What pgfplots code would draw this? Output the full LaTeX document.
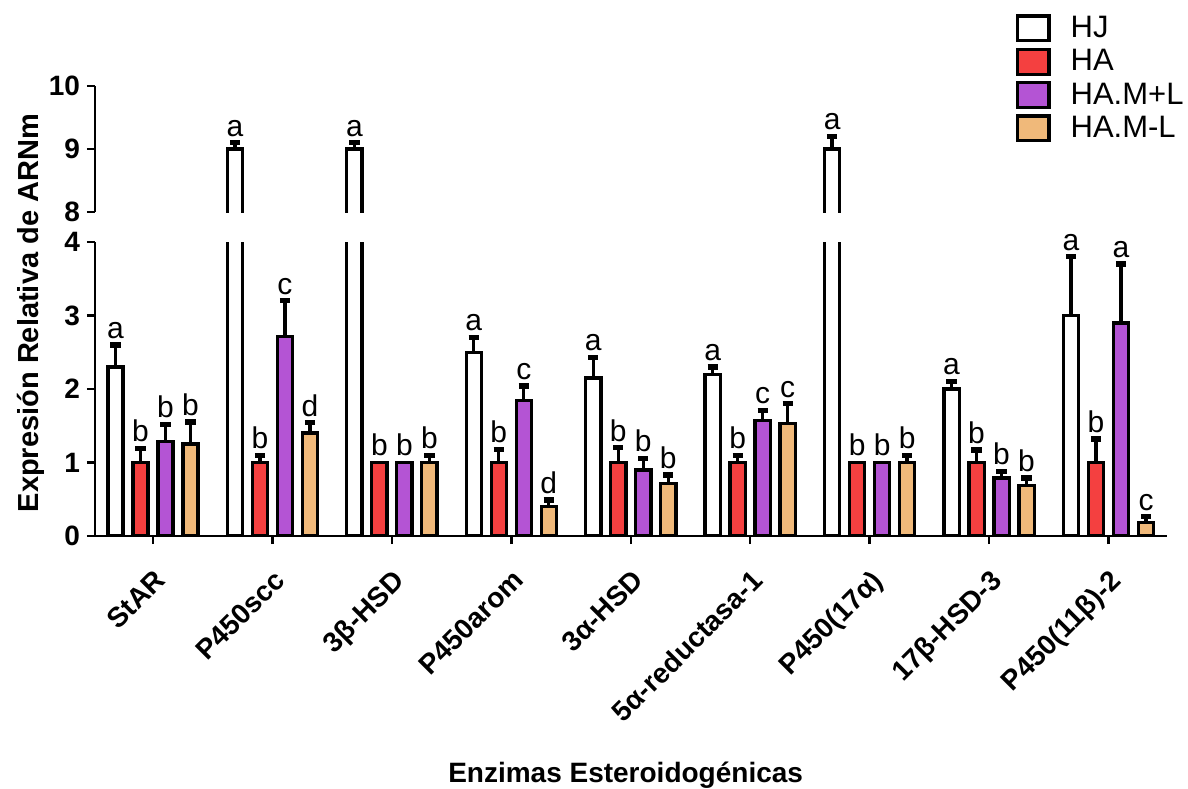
\documentclass[border=0pt]{standalone}
\usepackage{fontspec}
\setmainfont{Liberation Sans}
\usepackage{pgfplots}
\usepackage{pgfplotstable}
\pgfplotsset{compat=1.18}
\definecolor{cHA}{RGB}{244,64,64}
\definecolor{cML}{RGB}{180,84,212}
\definecolor{cMm}{RGB}{240,185,122}

\pgfplotstableread{
x y e l
0 2.3 0.3 a
1 9.0 0.1 a
2 9.0 0.1 a
3 2.5 0.2 a
4 2.15 0.28 a
5 2.2 0.1 a
6 9.0 0.2 a
7 2.0 0.1 a
8 3.0 0.8 a
}\tHJ
\pgfplotstableread{
x y e l
0 1.0 0.19 b
1 1.0 0.1 b
2 1.0 0.0 b
3 1.0 0.18 b
4 1.0 0.2 b
5 1.0 0.1 b
6 1.0 0.0 b
7 1.0 0.17 b
8 1.0 0.32 b
}\tHA
\pgfplotstableread{
x y e l
0 1.29 0.23 b
1 2.71 0.49 c
2 1.0 0.0 b
3 1.84 0.2 c
4 0.9 0.16 b
5 1.57 0.14 c
6 1.0 0.0 b
7 0.79 0.09 b
8 2.9 0.8 a
}\tML
\pgfplotstableread{
x y e l
0 1.25 0.3 b
1 1.4 0.14 d
2 1.0 0.1 b
3 0.4 0.09 d
4 0.71 0.12 b
5 1.53 0.27 c
6 1.0 0.1 b
7 0.69 0.1 b
8 0.18 0.08 c
}\tMm

\newcommand{\fs}{\fontsize{14}{16}\selectfont}
\pgfplotsset{
  common/.style={
    scale only axis, width=536pt,
    xmin=-0.486, xmax=8.49,
    axis line style={line width=1.2pt},
    tick style={line width=1.2pt, black},
    major tick length=4pt,
    tick align=outside,
    yticklabel style={font=\fs\bfseries},
    /pgf/number format/assume math mode=true,
    clip=true,
  },
  barstyle/.style={ybar, bar width=7.6pt, line width=1.65pt, draw=black},
  errstyle/.style={draw=none, mark=none, forget plot,
    restrict expr to domain={\thisrow{e}}{0.01:100},
    error bars/y dir=plus, error bars/y explicit,
    error bars/error mark=|,
    error bars/error bar style={draw=black, line width=1.65pt},
    error bars/error mark options={draw=black, line width=2.6pt, mark size=2.6pt}},
  letstyle/.style={draw=none, mark=none, forget plot,
    point meta=explicit symbolic, nodes near coords,
    nodes near coords style={anchor=south, inner sep=0pt, yshift=3pt, font=\fontsize{15}{17}\selectfont, text=black}},
}

\begin{document}
\begin{tikzpicture}
\useasboundingbox (-47.5pt,-126pt) rectangle (546.5pt,268pt);
\begin{axis}[common, at={(0pt,0pt)}, anchor=south west, height=147pt,
  ymin=0, ymax=4, ytick={0,1,2,3,4},
  axis x line*=bottom, axis y line*=left,
  xtick={0,...,8},
  xticklabels={{StAR},{P450scc},{3β-HSD},{P450arom},{3α-HSD},{5α-reductasa-1},{P450(17α)},{17β-HSD-3},{P450(11β)-2}},
  xticklabel style={rotate=45, anchor=north east, font=\fs\bfseries, inner sep=2pt},
  xticklabel shift=9pt,
  xlabel={Enzimas Esteroidogénicas},
  xlabel style={at={(rel axis cs:0.495,-0.837)}, anchor=base, font=\fs\bfseries},
  ylabel={Expresión Relativa de ARNm},
  ylabel style={at={(rel axis cs:-0.0597,0.758)}, anchor=center, font=\fontsize{14.5}{16}\selectfont\bfseries},
]
\addplot[barstyle, fill=white, bar shift=-18.75pt] table[x=x,y=y]{\tHJ};
\addplot[barstyle, fill=cHA, bar shift=-6.25pt] table[x=x,y=y]{\tHA};
\addplot[barstyle, fill=cML, bar shift=6.25pt] table[x=x,y=y]{\tML};
\addplot[barstyle, fill=cMm, bar shift=18.75pt] table[x=x,y=y]{\tMm};
\addplot[errstyle, restrict y to domain=0:5] table[x expr=\thisrow{x}-0.31399,y=y,y error=e]{\tHJ};
\addplot[errstyle] table[x expr=\thisrow{x}-0.10466,y=y,y error=e]{\tHA};
\addplot[errstyle] table[x expr=\thisrow{x}+0.10466,y=y,y error=e]{\tML};
\addplot[errstyle] table[x expr=\thisrow{x}+0.31399,y=y,y error=e]{\tMm};
\addplot[letstyle, restrict y to domain=0:5] table[x expr=\thisrow{x}-0.31399,y expr=\thisrow{y}+\thisrow{e},meta=l]{\tHJ};
\addplot[letstyle] table[x expr=\thisrow{x}-0.10466,y expr=\thisrow{y}+\thisrow{e},meta=l]{\tHA};
\addplot[letstyle] table[x expr=\thisrow{x}+0.10466,y expr=\thisrow{y}+\thisrow{e},meta=l]{\tML};
\addplot[letstyle] table[x expr=\thisrow{x}+0.31399,y expr=\thisrow{y}+\thisrow{e},meta=l]{\tMm};
\end{axis}
\begin{axis}[common, at={(0pt,130.5pt)}, anchor=south west, height=94.5pt,
  ymin=7, ymax=10, ytick={8,9,10},
  axis y line*=left, hide x axis,
  y axis line style={shorten <=31.5pt},
  legend style={at={(0.859,1.392)}, anchor=north west, draw=none, fill=none, inner sep=0pt,
    font=\fontsize{15.5}{17}\selectfont, row sep=0.5pt,
    /tikz/every odd column/.append style={column sep=8pt}},
  legend cell align=left,
  legend image code/.code={\draw[#1, line width=1.6pt] (0pt,-6.2pt) rectangle (15.6pt,6.2pt);},
]
\clip (axis cs:-1,8) rectangle (axis cs:9,11);
\addplot[barstyle, fill=white, bar shift=-18.75pt, forget plot, restrict y to domain=8:11] table[x=x,y=y]{\tHJ};
\addplot[errstyle, restrict y to domain=8:11] table[x expr=\thisrow{x}-0.31399,y=y,y error=e]{\tHJ};
\addplot[letstyle, restrict y to domain=8:11] table[x expr=\thisrow{x}-0.31399,y expr=\thisrow{y}+\thisrow{e},meta=l]{\tHJ};
\addlegendimage{draw=black, fill=white}
\addlegendimage{draw=black, fill=cHA}
\addlegendimage{draw=black, fill=cML}
\addlegendimage{draw=black, fill=cMm}
\legend{HJ,HA,HA.M+L,HA.M-L}
\end{axis}
\end{tikzpicture}
\end{document}
